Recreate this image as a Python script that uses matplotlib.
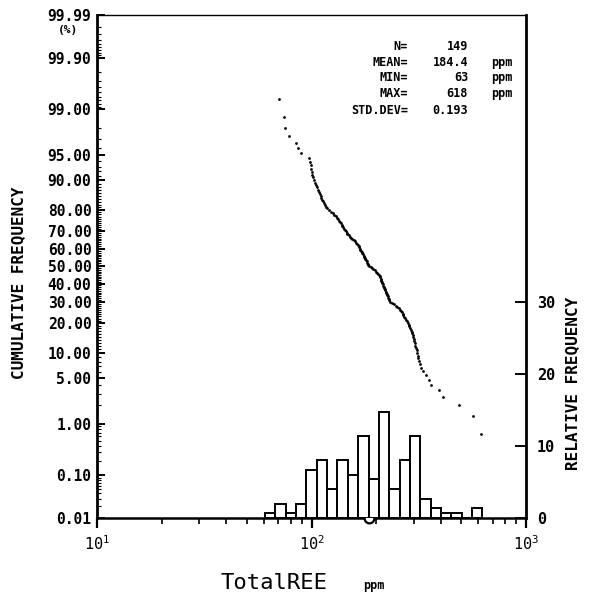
import math
import numpy as np
import matplotlib
matplotlib.use("Agg")
import matplotlib.pyplot as plt
from matplotlib.ticker import FixedLocator, FixedFormatter, NullFormatter

# ---------------- data ----------------
# sorted Total REE values (ppm), one per sample
ree_ppm = [
    63.0,
    70.6, 74.2, 75.4,
    78.7,
    85.0, 86.5, 89.4,
    97.8, 98.3, 99.0, 99.6, 100.2, 101.0, 101.8, 102.5, 103.3, 104.6,
    106.5, 107.4, 108.2, 109.5, 110.3, 111.0, 112.4, 113.1, 114.5, 115.6, 116.8, 117.9,
    120.5, 123.0, 125.4, 127.8, 129.6, 131.5,
    133.0, 134.2, 135.5, 136.8, 138.0, 139.4, 140.6, 141.8, 143.0, 144.5, 145.8, 147.0,
    149.0, 151.2, 153.5, 155.0, 157.3, 159.0, 160.8, 162.5, 164.3,
    165.8, 166.9, 167.8, 168.9, 170.0, 171.2, 172.3, 173.5, 174.8, 176.0, 177.1, 178.3,
    179.5, 180.6, 181.7, 182.8, 183.9,
    186.0, 188.5, 191.2, 194.0, 196.8, 199.5, 202.0, 204.8,
    206.7, 207.5, 208.9, 209.8, 211.0, 211.9, 213.2, 214.0, 215.3, 216.1, 217.6, 218.4,
    219.7, 220.9, 221.8, 223.0, 224.2, 225.1, 226.5, 227.3, 228.6, 229.9,
    233.5, 238.0, 242.4, 246.9, 251.2, 255.6,
    258.8, 261.0, 263.5, 265.9, 268.2, 270.8, 273.1, 275.7, 278.4, 280.9, 283.5, 286.2,
    288.9, 290.7, 292.6, 294.2, 296.1, 297.9, 299.8, 301.5, 303.6, 305.3, 307.4, 309.1,
    311.2, 313.0, 315.3, 317.6, 320.0,
    323.0, 330.0, 341.0, 352.0,
    362.0, 391.0,
    410.0,
    486.0,
    565.0, 618.0,
]
mean_ppm = 184.4      # printed geometric mean
std_log = 0.193       # printed STD.DEV (log10 units)
bin_steps = list(range(-10, 12))   # histogram bin edges, in quarter std steps from the mean

y_tick_values = [0.01, 0.1, 1, 5, 10, 20, 30, 40, 50, 60, 70, 80, 90, 95, 99, 99.9, 99.99]
y_tick_labels = ["0.01", "0.10", "1.00", "5.00", "10.00", "20.00", "30.00", "40.00",
                 "50.00", "60.00", "70.00", "80.00", "90.00", "95.00", "99.00",
                 "99.90", "99.99"]
x_tick_values = [10, 100, 1000]
x_tick_labels = [r"$\mathbf{10^{1}}$", r"$\mathbf{10^{2}}$", r"$\mathbf{10^{3}}$"]
rf_ticks = [0, 10, 20, 30]

# ---------------- probability scale ----------------
_a = [-3.969683028665376e+01, 2.209460984245205e+02, -2.759285104469687e+02,
      1.383577518672690e+02, -3.066479806614716e+01, 2.506628277459239e+00]
_b = [-5.447609879822406e+01, 1.615858368580409e+02, -1.556989798598866e+02,
      6.680131188771972e+01, -1.328068155288572e+01]
_c = [-7.784894002430293e-03, -3.223964580411365e-01, -2.400758277161838e+00,
      -2.549671180376174e+00, 4.374664141464968e+00, 2.938163982698783e+00]
_d = [7.784695709041462e-03, 3.224671290700398e-01, 2.445134137625568e+00,
      3.754408661907416e+00]


def _ppf(p):
    p = np.clip(np.asarray(p, dtype=float), 1e-12, 1 - 1e-12)
    x = np.empty_like(p)
    plow = 0.02425
    lo = p < plow
    hi = p > 1 - plow
    mid = ~(lo | hi)
    q = np.sqrt(-2 * np.log(p[lo]))
    x[lo] = (((((_c[0]*q+_c[1])*q+_c[2])*q+_c[3])*q+_c[4])*q+_c[5]) / \
            ((((_d[0]*q+_d[1])*q+_d[2])*q+_d[3])*q+1)
    q = p[mid] - 0.5
    r = q * q
    x[mid] = (((((_a[0]*r+_a[1])*r+_a[2])*r+_a[3])*r+_a[4])*r+_a[5])*q / \
             (((((_b[0]*r+_b[1])*r+_b[2])*r+_b[3])*r+_b[4])*r+1)
    q = np.sqrt(-2 * np.log(1 - p[hi]))
    x[hi] = -(((((_c[0]*q+_c[1])*q+_c[2])*q+_c[3])*q+_c[4])*q+_c[5]) / \
             ((((_d[0]*q+_d[1])*q+_d[2])*q+_d[3])*q+1)
    return x


_erf = np.vectorize(math.erf)


def fwd(y):
    return _ppf(np.asarray(y, dtype=float) / 100.0)


def inv(z):
    z = np.asarray(z, dtype=float)
    return 100.0 * 0.5 * (1 + _erf(z / math.sqrt(2)))


# ---------------- figure ----------------
plt.rcParams["font.family"] = ["DejaVu Sans Mono", "DejaVu Sans"]
plt.rcParams["mathtext.fontset"] = "dejavusans"

W = H = 599
fig = plt.figure(figsize=(5.99, 5.99), dpi=100)
ax = fig.add_axes([97 / W, 1 - 518 / H, (526 - 97) / W, (518 - 15) / H])

vals = np.array(ree_ppm)
n = len(vals)
rank = np.arange(1, n + 1)
cum = 100.0 * (n - rank + 1) / n     # % of samples >= value
show = cum < 100

ax.set_xscale("log")
ax.set_yscale("function", functions=(fwd, inv))
ax.set_xlim(10, 1000)
ax.set_ylim(0.01, 99.99)

ax.plot(vals[show], cum[show], "o", color="black", ms=2.0, mew=0, zorder=3)

# mean marker on the axis
ax.plot([mean_ppm], [0.01], "o", mfc="white", mec="black", ms=7, mew=1.6,
        clip_on=False, zorder=6)

# y ticks
ax.yaxis.set_major_locator(FixedLocator(y_tick_values))
ax.yaxis.set_major_formatter(FixedFormatter(y_tick_labels))
minor_y = ([0.02, 0.03, 0.04, 0.05, 0.06, 0.07, 0.08, 0.09]
           + [0.2, 0.3, 0.4, 0.5, 0.6, 0.7, 0.8, 0.9]
           + [2, 3, 4, 6, 7, 8, 9]
           + [v for v in range(11, 95) if v % 10 != 0]
           + [96, 97, 98, 99.1, 99.2, 99.3, 99.4, 99.5, 99.6, 99.7, 99.8,
              99.91, 99.92, 99.93, 99.94, 99.95, 99.96, 99.97, 99.98])
ax.yaxis.set_minor_locator(FixedLocator(minor_y))
ax.yaxis.set_minor_formatter(NullFormatter())
ax.tick_params(axis="y", which="major", direction="in", length=6, width=1.4,
               pad=4, labelsize=10.5, right=False)
ax.tick_params(axis="y", which="minor", direction="in", length=3, width=0.8,
               right=False)
for t in ax.get_yticklabels():
    t.set_fontweight("bold")

# x ticks
ax.xaxis.set_major_locator(FixedLocator(x_tick_values))
ax.xaxis.set_major_formatter(FixedFormatter(x_tick_labels))
ax.tick_params(axis="x", which="major", direction="out", length=7, width=1.6,
               pad=5, labelsize=11, top=False)
ax.tick_params(axis="x", which="minor", direction="out", length=4, width=1.2,
               top=False)
ax.xaxis.set_minor_formatter(NullFormatter())

for side, lw in (("left", 2.0), ("bottom", 1.8), ("right", 2.0), ("top", 1.0)):
    ax.spines[side].set_linewidth(lw)

# histogram on a twin axis
ax2 = ax.twinx()
ax2.set_xscale("log")
ax2.set_xlim(10, 1000)
ax2.set_ylim(0, 70)
edges = 10 ** (math.log10(mean_ppm) + std_log / 4.0 * np.array(bin_steps))
ax2.hist(vals, bins=edges, weights=np.full(n, 100.0 / n), histtype="bar",
         facecolor="white", edgecolor="black", linewidth=1.4, zorder=2)
ax2.set_yticks(rf_ticks)
ax2.set_yticklabels([str(v) for v in rf_ticks])
ax2.tick_params(axis="y", direction="in", length=8, width=1.4, pad=8,
                labelsize=11)
for t in ax2.get_yticklabels():
    t.set_fontweight("bold")
for s in ax2.spines.values():
    s.set_visible(False)

# statistics block
rows_y = [0.938, 0.905, 0.875, 0.843, 0.811]
stat_names = ["N=", "MEAN=", "MIN=", "MAX=", "STD.DEV="]
stat_vals = [f"{n:d}", f"{mean_ppm:.1f}", f"{vals.min():.0f}", f"{vals.max():.0f}",
             f"{std_log:.3f}"]
stat_units = ["", "ppm", "ppm", "ppm", ""]
for yv, nm, sv, un in zip(rows_y, stat_names, stat_vals, stat_units):
    ax.text(0.725, yv, nm, transform=ax.transAxes, ha="right", va="center",
            fontsize=8.5, fontweight="bold")
    ax.text(0.865, yv, sv, transform=ax.transAxes, ha="right", va="center",
            fontsize=8.5, fontweight="bold")
    if un:
        ax.text(0.918, yv, un, transform=ax.transAxes, ha="left", va="center",
                fontsize=8.5, fontweight="bold")

# axis titles and extra labels
fig.text(68 / W, 1 - 30 / H, "(%)", ha="center", va="center", fontsize=8,
         fontweight="bold")
fig.text(19 / W, 1 - 283 / H, "CUMULATIVE FREQUENCY", rotation=90,
         ha="center", va="center", fontsize=11.5, fontweight="bold")
fig.text(573 / W, 1 - 383 / H, "RELATIVE FREQUENCY", rotation=90,
         ha="center", va="center", fontsize=11.5, fontweight="bold")
fig.text(274 / W, 1 - 583 / H, "TotalREE", ha="center", va="center",
         fontsize=16)
fig.text(374 / W, 1 - 586 / H, "ppm", ha="center", va="center",
         fontsize=8.5, fontweight="bold")

fig.savefig("out.png", dpi=100)
